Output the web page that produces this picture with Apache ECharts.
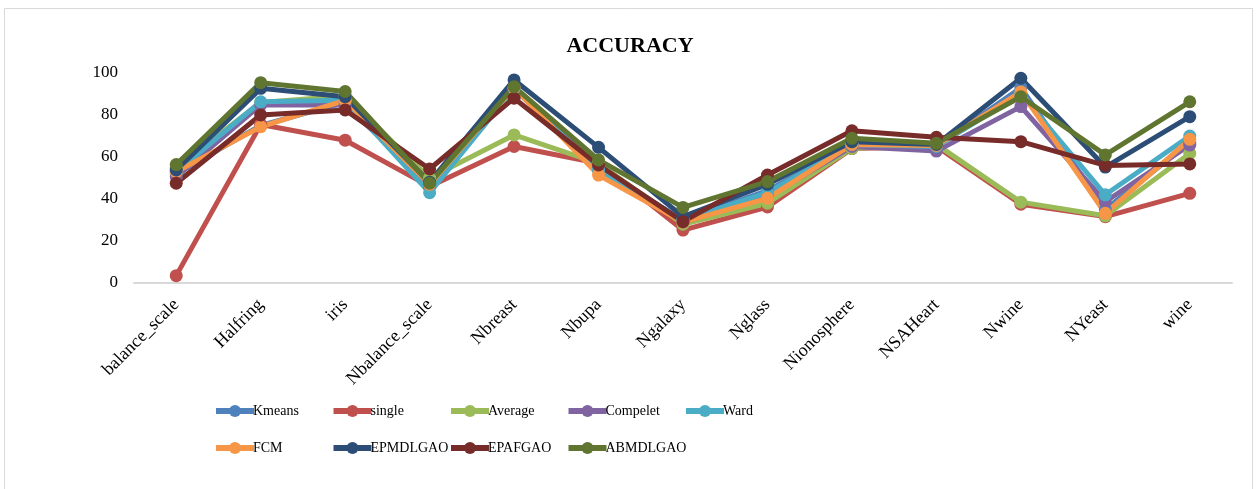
<!DOCTYPE html>
<html>
<head>
<meta charset="utf-8">
<script src="https://cdn.jsdelivr.net/npm/echarts@6/dist/echarts.min.js"></script>
<style>
  html, body { margin: 0; padding: 0; background: #fff; }
  #accChart { width: 1260px; height: 489px; }
</style>
</head>
<body>
<div id="accChart"></div>
<script>
var categories = ['balance_scale','Halfring','iris','Nbalance_scale','Nbreast','Nbupa','Ngalaxy','Nglass','Nionosphere','NSAHeart','Nwine','NYeast','wine'];
var yTicks = [0, 20, 40, 60, 80, 100];

var seriesNames = ['Kmeans','single','Average','Compelet','Ward','FCM','EPMDLGAO','EPAFGAO','ABMDLGAO'];
var seriesColors = ['#4F81BD','#C0504D','#9BBB59','#8064A2','#4BACC6','#F79646','#2C4D75','#772C2A','#5F7530'];

var kmeans   = [52, 75, 86, 47, 93, 54, 30, 44, 66, 65, 93, 35, 67];
var single   = [3.5, 75.5, 68, 46, 65, 57, 25.2, 36.2, 64, 65, 37.5, 31.6, 42.7];
var average  = [55, 86, 89, 50, 70.5, 57, 28, 38, 64.1, 66, 38.5, 32, 61.7];
var compelet = [50.6, 84.8, 84.8, 47, 93, 55, 29, 41, 65, 62.8, 84, 38.7, 65.7];
var ward     = [53, 86.3, 87, 43, 92.5, 54, 30, 43, 66, 65, 90, 42, 70];
var fcm      = [53, 74.4, 87, 47, 93, 51.4, 29, 40.3, 66, 65.5, 91, 33.2, 68.4];
var epmdlgao = [53.8, 92.7, 88.7, 48, 96.7, 64.6, 31.6, 47, 67.3, 66, 97.5, 55.2, 79.2];
var epafgao  = [47.5, 80, 82.4, 54.3, 88, 56.2, 29.2, 51.4, 72.5, 69.4, 67.3, 56, 56.7];
var abmdlgao = [56.4, 95.4, 91.2, 47.5, 93.5, 58.6, 36, 48.3, 68.9, 66.5, 88.7, 61, 86.3];

var seriesData = [kmeans, single, average, compelet, ward, fcm, epmdlgao, epafgao, abmdlgao];

var serif = '"Liberation Serif", "DejaVu Serif", serif';

var series = [];
for (var i = 0; i < seriesNames.length; i++) {
    series.push({
        name: seriesNames[i],
        type: 'line',
        data: seriesData[i],
        symbol: 'circle',
        symbolSize: 13,
        lineStyle: { width: 5, color: seriesColors[i] },
        itemStyle: { color: seriesColors[i] },
        animation: false
    });
}

// one legend per item so they sit on a fixed grid like the original
var legends = [];
for (var j = 0; j < seriesNames.length; j++) {
    var row = j < 5 ? 0 : 1;
    var col = j < 5 ? j : j - 5;
    legends.push({
        data: [seriesNames[j]],
        left: 213 + col * 117.5,
        top: 404 + row * 37,
        padding: 0,
        itemWidth: 38,
        itemHeight: 15,
        itemGap: 0,
        lineStyle: { width: 6 },
        textStyle: { fontFamily: serif, fontSize: 14, color: '#000', padding: [0, 0, 0, -6] }
    });
}

var option = {
    backgroundColor: '#fff',
    title: {
        text: 'ACCURACY',
        left: 'center',
        top: 30,
        textStyle: { fontFamily: serif, fontSize: 22, fontWeight: 'bold', color: '#000' }
    },
    legend: legends,
    grid: { left: 134, right: 28, top: 73, bottom: 206, containLabel: false },
    xAxis: {
        type: 'category',
        data: categories,
        boundaryGap: true,
        axisLine: { show: true, lineStyle: { color: '#D9D9D9', width: 2 } },
        axisTick: { show: false },
        axisLabel: {
            rotate: 45,
            interval: 0,
            margin: 19,
            fontFamily: serif,
            fontSize: 18,
            color: '#000'
        }
    },
    yAxis: {
        type: 'value',
        min: yTicks[0],
        max: yTicks[yTicks.length - 1],
        interval: 20,
        axisLine: { show: false },
        axisTick: { show: false },
        splitLine: { show: false },
        axisLabel: { margin: 16, fontFamily: serif, fontSize: 17, color: '#000' }
    },
    graphic: [{
        type: 'rect',
        shape: { x: 4.5, y: 8.5, width: 1248, height: 490 },
        style: { fill: 'none', stroke: '#D9D9D9', lineWidth: 1 },
        silent: true
    }],
    series: series
};

var myChart = echarts.init(document.getElementById('accChart'));
myChart.setOption(option);
</script>
</body>
</html>
